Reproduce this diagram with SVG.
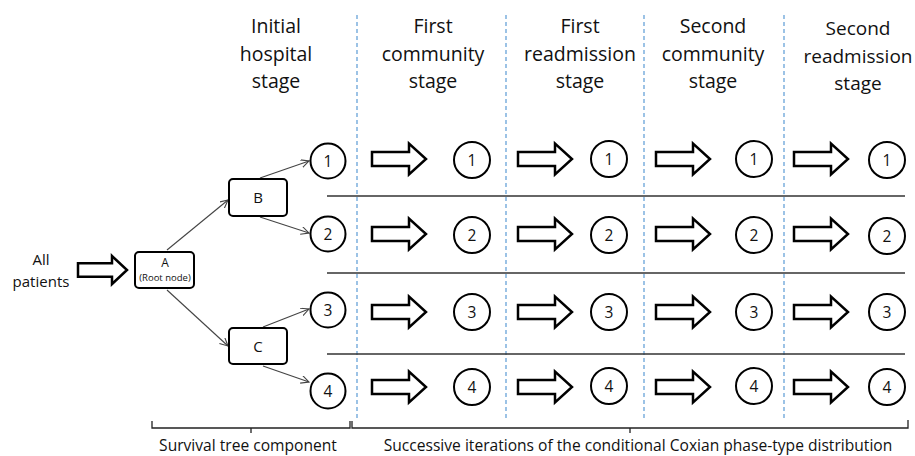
<svg xmlns="http://www.w3.org/2000/svg" width="915" height="456" viewBox="0 0 915 456">
<style>
text{font-family:"Open Sans","Liberation Sans",sans-serif;fill:#111;text-anchor:middle}
.hdr{font-size:19.5px}
.lbl{font-size:15px}
.foot{font-size:15.6px}
.num{font-size:15.5px}
.bigarrow{fill:#fff;stroke:#000;stroke-width:2.5;stroke-linejoin:miter}
.circ{fill:#fff;stroke:#000;stroke-width:2}
.box{fill:#fff;stroke:#000;stroke-width:2}
.conn{stroke:#444;stroke-width:1.1;fill:none;marker-end:url(#vhead)}
.dash{stroke:#5b9bd5;stroke-width:1.2;stroke-dasharray:4 3}
.sep{stroke:#333;stroke-width:1.5}
.brk{stroke:#222;stroke-width:1.3;fill:none}
</style>
<defs>
<marker id="vhead" markerWidth="10" markerHeight="10" refX="8" refY="4" orient="auto" markerUnits="userSpaceOnUse">
<path d="M0,0 L8,4 L0,8" fill="none" stroke="#444" stroke-width="1.1"/>
</marker>
<path id="barrow" class="bigarrow" d="M0,-7 H37 V-15.5 L54,0 L37,15.5 V7 H0 Z"/>
</defs>

<g id="headers">
<text class="hdr" x="276" y="33">Initial</text>
<text class="hdr" x="276" y="61">hospital</text>
<text class="hdr" x="276" y="88">stage</text>
<text class="hdr" x="433" y="33">First</text>
<text class="hdr" x="433" y="61">community</text>
<text class="hdr" x="433" y="88">stage</text>
<text class="hdr" x="580" y="33">First</text>
<text class="hdr" x="580" y="61">readmission</text>
<text class="hdr" x="580" y="88">stage</text>
<text class="hdr" x="713" y="33">Second</text>
<text class="hdr" x="713" y="61">community</text>
<text class="hdr" x="713" y="88">stage</text>
<text class="hdr" x="858" y="35" style="font-size:19px">Second</text>
<text class="hdr" x="858" y="63" style="font-size:19px">readmission</text>
<text class="hdr" x="858" y="90" style="font-size:19px">stage</text>
</g>

<g id="dividers">
<line class="dash" x1="357" y1="15" x2="357" y2="418"/>
<line class="dash" x1="506" y1="15" x2="506" y2="418"/>
<line class="dash" x1="644" y1="15" x2="644" y2="418"/>
<line class="dash" x1="784" y1="15" x2="784" y2="418"/>
<line class="sep" x1="327" y1="196" x2="905" y2="196"/>
<line class="sep" x1="327" y1="273" x2="905" y2="273"/>
<line class="sep" x1="327" y1="354" x2="905" y2="354"/>
</g>

<g id="input">
<text class="lbl" x="41" y="265">All</text>
<text class="lbl" x="41" y="287">patients</text>
<path class="bigarrow" d="M78,263.3 H112 V256 L127,270 L112,284 V276.7 H78 Z"/>
</g>

<g id="connectors">
<line class="conn" x1="167" y1="250" x2="228" y2="200"/>
<line class="conn" x1="167" y1="290" x2="228" y2="346"/>
<line class="conn" x1="260" y1="178" x2="309" y2="161"/>
<line class="conn" x1="260" y1="217" x2="309" y2="233"/>
<line class="conn" x1="263" y1="327" x2="309" y2="309"/>
<line class="conn" x1="263" y1="366" x2="309" y2="382"/>
</g>

<g id="nodeA">
<rect class="box" x="135" y="252" width="59" height="36" rx="4"/>
<text x="165" y="267" style="font-size:12px">A</text>
<text x="165" y="281" style="font-size:9.5px">(Root node)</text>
</g>
<g id="nodeB">
<rect class="box" x="229" y="179" width="58" height="37" rx="4"/>
<text class="lbl" x="258" y="203">B</text>
</g>
<g id="nodeC">
<rect class="box" x="229" y="328" width="58" height="36" rx="4"/>
<text class="lbl" x="258" y="352">C</text>
</g>

<g id="leaf1"><circle class="circ" cx="328" cy="161" r="17.5"/><text class="num" x="328" y="166.5">1</text></g>
<g id="leaf2"><circle class="circ" cx="328" cy="234" r="17.5"/><text class="num" x="328" y="239.5">2</text></g>
<g id="leaf3"><circle class="circ" cx="328" cy="310" r="17.5"/><text class="num" x="328" y="315.5">3</text></g>
<g id="leaf4"><circle class="circ" cx="328" cy="391" r="17.5"/><text class="num" x="328" y="396.5">4</text></g>

<g id="stage-arrows">
<use href="#barrow" x="372" y="159"/><use href="#barrow" x="518" y="159"/><use href="#barrow" x="656" y="159"/><use href="#barrow" x="794" y="159"/>
<use href="#barrow" x="372" y="234"/><use href="#barrow" x="518" y="234"/><use href="#barrow" x="656" y="234"/><use href="#barrow" x="794" y="234"/>
<use href="#barrow" x="372" y="312"/><use href="#barrow" x="518" y="312"/><use href="#barrow" x="656" y="312"/><use href="#barrow" x="794" y="312"/>
<use href="#barrow" x="372" y="387"/><use href="#barrow" x="518" y="387"/><use href="#barrow" x="656" y="387"/><use href="#barrow" x="794" y="387"/>
</g>

<g id="col1">
<circle class="circ" cx="472" cy="160" r="18"/><text class="num" x="472" y="165.5">1</text>
<circle class="circ" cx="472" cy="235" r="18"/><text class="num" x="472" y="240.5">2</text>
<circle class="circ" cx="472" cy="312" r="18"/><text class="num" x="472" y="317.5">3</text>
<circle class="circ" cx="472" cy="387" r="18"/><text class="num" x="472" y="392.5">4</text>
</g>
<g id="col2">
<circle class="circ" cx="609" cy="159" r="18"/><text class="num" x="609" y="164.5">1</text>
<circle class="circ" cx="609" cy="235" r="18"/><text class="num" x="609" y="240.5">2</text>
<circle class="circ" cx="609" cy="312" r="18"/><text class="num" x="609" y="317.5">3</text>
<circle class="circ" cx="609" cy="386" r="18"/><text class="num" x="609" y="391.5">4</text>
</g>
<g id="col3">
<circle class="circ" cx="754" cy="159" r="18"/><text class="num" x="754" y="164.5">1</text>
<circle class="circ" cx="754" cy="235" r="18"/><text class="num" x="754" y="240.5">2</text>
<circle class="circ" cx="754" cy="312" r="18"/><text class="num" x="754" y="317.5">3</text>
<circle class="circ" cx="754" cy="386" r="18"/><text class="num" x="754" y="391.5">4</text>
</g>
<g id="col4">
<circle class="circ" cx="887" cy="160" r="18"/><text class="num" x="887" y="165.5">1</text>
<circle class="circ" cx="887" cy="236" r="18"/><text class="num" x="887" y="241.5">2</text>
<circle class="circ" cx="887" cy="312" r="18"/><text class="num" x="887" y="317.5">3</text>
<circle class="circ" cx="887" cy="387" r="18"/><text class="num" x="887" y="392.5">4</text>
</g>

<g id="brackets">
<path class="brk" d="M152,421 V428 H350 V421 M251,428 V433"/>
<path class="brk" d="M352,421 V428 H908 V420 M630,428 V433"/>
<text class="foot" x="248" y="450.5">Survival tree component</text>
<text class="foot" x="638" y="450.5">Successive iterations of the conditional Coxian phase-type distribution</text>
</g>
</svg>
